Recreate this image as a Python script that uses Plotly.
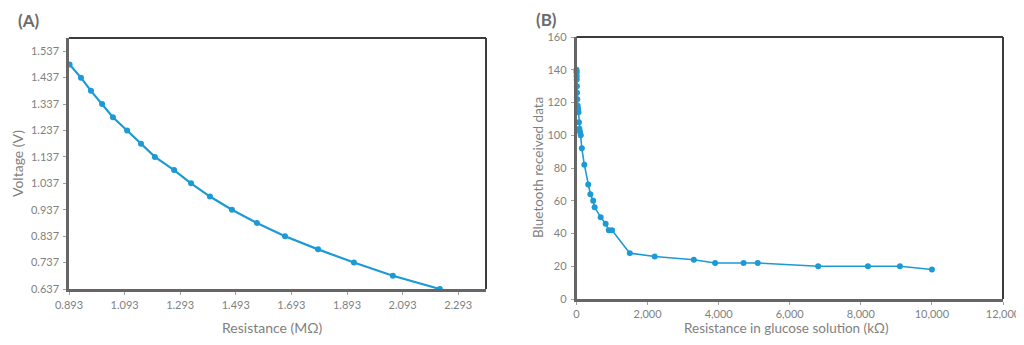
import plotly.graph_objects as go

# ---- Panel A data ----
a_resistance = [0.895, 0.936, 0.972, 1.012, 1.051, 1.102, 1.152, 1.202, 1.271, 1.332,
                1.400, 1.479, 1.569, 1.670, 1.789, 1.918, 2.058, 2.227]
a_voltage = [1.487, 1.437, 1.387, 1.337, 1.287, 1.237, 1.187, 1.137, 1.087, 1.037,
             0.987, 0.937, 0.887, 0.837, 0.787, 0.737, 0.687, 0.637]
a_xticks = [0.893, 1.093, 1.293, 1.493, 1.693, 1.893, 2.093, 2.293]
a_yticks = [0.637, 0.737, 0.837, 0.937, 1.037, 1.137, 1.237, 1.337, 1.437, 1.537]

# ---- Panel B data ----
b_resistance = [1, 2.2, 3.3, 4.7, 6.8, 10, 15, 22, 33, 47, 56, 68, 82, 100, 120,
                150, 220, 330, 390, 470, 510, 680, 820, 910, 1000, 1500, 2200, 3300,
                3900, 4700, 5100, 6800, 8200, 9100, 10000]
b_data = [140, 139, 138, 136, 134, 130, 126, 122, 118, 116, 114, 108, 104, 102, 100,
          92, 82, 70, 64, 60, 56, 50, 46, 42, 42, 28, 26, 24,
          22, 22, 22, 20, 20, 20, 18]
b_xticks = [0, 2000, 4000, 6000, 8000, 10000, 12000]
b_yticks = [0, 20, 40, 60, 80, 100, 120, 140, 160]

BLUE = "#1b9ad6"
TXT = "#7f7f7f"
AX = "#666666"
FONT = "Lato"

# page has an 8px body margin: figure is sized/offset so page pixels match
OX, OY = 8, 8
W, H = 1016, 337

def px(x):
    return (x - OX) / W

def py(y):
    return 1 - (y - OY) / H

fig = go.Figure()
fig.add_trace(go.Scatter(x=a_resistance, y=a_voltage, mode="lines+markers",
                         line=dict(color=BLUE, width=2.2), marker=dict(color=BLUE, size=6),
                         xaxis="x", yaxis="y", showlegend=False, cliponaxis=False))
fig.add_trace(go.Scatter(x=b_resistance, y=b_data, mode="lines+markers",
                         line=dict(color=BLUE, width=1.6), marker=dict(color=BLUE, size=6),
                         xaxis="x2", yaxis="y2", showlegend=False, cliponaxis=False))

axis_common = dict(showgrid=False, zeroline=False, showline=True, linecolor=AX, linewidth=2.5,
                   ticks="outside", ticklen=3, tickcolor="#a0a0a0", tickwidth=1,
                   automargin=False,
                   tickfont=dict(family=FONT, size=11, color=TXT))

fig.update_layout(
    width=W, height=H, margin=dict(l=0, r=0, t=0, b=0, pad=0, autoexpand=False),
    paper_bgcolor="white", plot_bgcolor="white",
    xaxis=dict(domain=[px(69), px(486)], range=[0.893, 2.393], anchor="y",
               tickvals=a_xticks, ticktext=[f"{v:.3f}" for v in a_xticks],
               ticklabelstandoff=1, **axis_common),
    yaxis=dict(domain=[py(289), py(38)], range=[0.637, 1.587], anchor="x",
               tickvals=a_yticks, ticktext=[f"{v:.3f}" for v in a_yticks],
               ticklabelstandoff=2, **axis_common),
    xaxis2=dict(domain=[px(576.5), px(1003)], range=[0, 12000], anchor="y2",
                tickvals=b_xticks, ticktext=[f"{v:,}" for v in b_xticks],
                ticklabelstandoff=0, **axis_common),
    yaxis2=dict(domain=[py(299), py(37)], range=[0, 160], anchor="x2",
                tickvals=b_yticks, ticktext=[str(v) for v in b_yticks],
                ticklabelstandoff=2, **axis_common),
)

# top/right border lines
for xr, yr in (("x", "y"), ("x2", "y2")):
    fig.add_shape(type="line", xref=f"{xr} domain", yref=f"{yr} domain",
                  x0=0, x1=1, y0=1, y1=1, line=dict(color="#3c3c3c", width=2))
    fig.add_shape(type="line", xref=f"{xr} domain", yref=f"{yr} domain",
                  x0=1, x1=1, y0=0, y1=1, line=dict(color="#3c3c3c", width=2))

def ann(text, x, y, size, bold=False, angle=0, color=TXT):
    fig.add_annotation(text=f"<b>{text}</b>" if bold else text, x=px(x), y=py(y),
                       xref="paper", yref="paper", showarrow=False, textangle=angle,
                       font=dict(family=FONT, size=size, color=color),
                       xanchor="center", yanchor="middle")

ann("(A)", 28, 20, 17, bold=True, color="#6b6b6b")
ann("(B)", 546, 19, 17, bold=True, color="#6b6b6b")
ann("Voltage (V)", 17, 164, 14, angle=-90)
ann("Resistance (MΩ)", 272, 327, 14)
ann("Bluetooth received data", 538, 168, 13.5, angle=-90)
ann("Resistance in glucose solution (kΩ)", 786, 328, 13.5)

fig.write_html("out.html")
